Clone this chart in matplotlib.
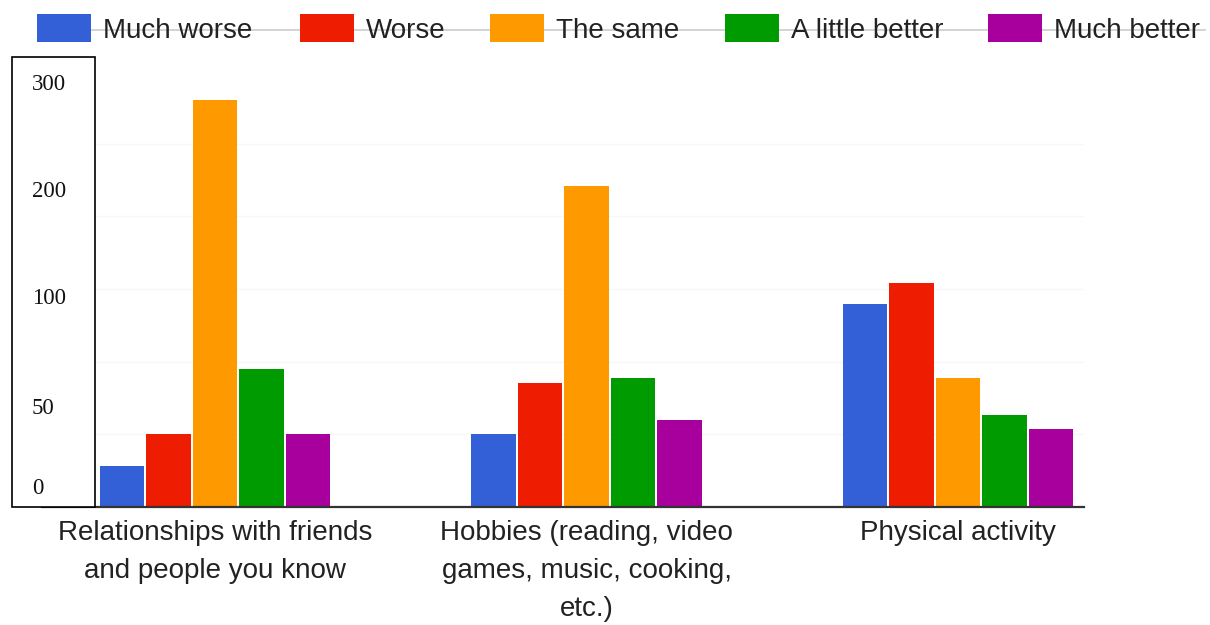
# Grouped bar chart of how different parts of life changed, by response

import numpy as np
import matplotlib.pyplot as plt
from matplotlib.patches import Rectangle
from matplotlib.lines import Line2D

# Categories on the x axis
categories = ["Relationships with friends\nand people you know",
              "Hobbies (reading, video\ngames, music, cooking,\netc.)",
              "Physical activity"]

# Response options and the count of answers for each category
responses = ["Much worse", "Worse", "The same", "A little better", "Much better"]
much_worse = [28, 50, 140]
worse = [50, 85, 154]
the_same = [280, 221, 89]
little_better = [95, 89, 63]
much_better = [50, 60, 54]

colors = ["#3360d6", "#ee1c00", "#ff9900", "#009b00", "#a8009c"]

# Labels written in the boxed y-axis panel
box_labels = ["300", "200", "100", "50", "0"]

W, H = 1210, 625
fig = plt.figure(figsize=(W / 100, H / 100), dpi=100)
ax = fig.add_axes([42 / W, 118 / H, 1042 / W, 447 / H])

# Drawing the bars, five per category
x = np.arange(len(categories))
step = 0.1252
series = [much_worse, worse, the_same, little_better, much_better]
for i, (vals, col) in enumerate(zip(series, colors)):
    ax.bar(x + (i - 2) * step, vals, width=0.119, color=col, zorder=3)

ax.set_xlim(-0.4657, 2.339)
ax.set_ylim(0, 307.6)

# Axis styling
for side in ["top", "right", "left"]:
    ax.spines[side].set_visible(False)
ax.spines["bottom"].set_color("#333333")
ax.spines["bottom"].set_linewidth(1.6)
ax.spines["bottom"].set_zorder(4)

ax.set_yticks([50, 100, 150, 200, 250])
ax.set_yticklabels([])
ax.tick_params(axis="y", length=0)
ax.grid(axis="y", color="#f7f7f7", linewidth=1, zorder=0)

ax.set_xticks(x)
ax.set_xticklabels(categories, fontsize=20, color="#222222", family="Liberation Sans",
                   linespacing=1.6)
ax.tick_params(axis="x", length=0, pad=9)

# Boxed panel with the y labels
fig.add_artist(Rectangle((12 / W, 1 - 507 / H), 83 / W, 450 / H, transform=fig.transFigure,
                         facecolor="white", edgecolor="black", linewidth=1.2, zorder=10))
for lab, py in zip(box_labels, [85, 192, 299, 408, 488]):
    fig.text(32 / W, 1 - py / H, lab, family="Liberation Serif", fontsize=16.5,
             va="center", ha="left", color="#111111", zorder=11)

# Legend row across the top, with a thin line running behind it
fig.add_artist(Line2D([91 / W, 1205 / W], [1 - 30 / H, 1 - 30 / H], transform=fig.transFigure,
                      color="#cccccc", linewidth=1.2, zorder=1))
patch_x = [37, 300, 490, 725, 988]
for lab, col, px in zip(responses, colors, patch_x):
    fig.add_artist(Rectangle((px / W, 1 - 42 / H), 54 / W, 28 / H, transform=fig.transFigure,
                             facecolor=col, edgecolor="none", zorder=2))
    fig.text((px + 66) / W, 1 - 38 / H, lab, family="Liberation Sans", fontsize=20,
             va="baseline", ha="left", color="#222222", zorder=3)

fig.savefig("out.png", dpi=100)
